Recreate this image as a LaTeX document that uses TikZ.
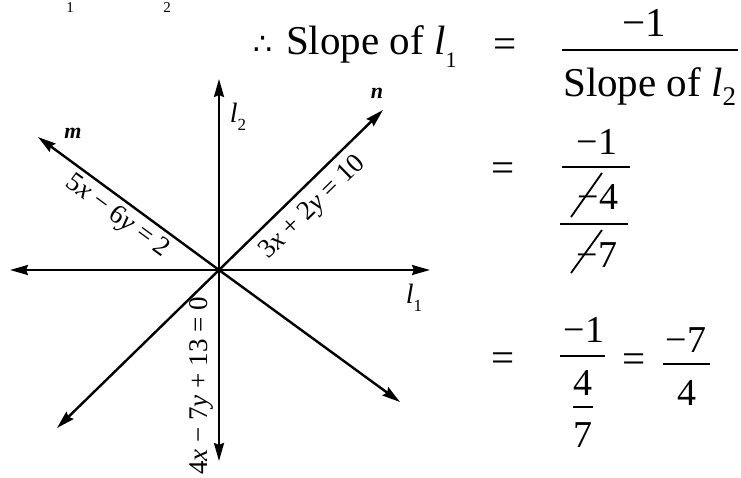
\documentclass[tikz,border=0pt]{standalone}
\usepackage{fontspec}
\setmainfont{Liberation Serif}
\newfontfamily\symfont{DejaVu Sans}
\usetikzlibrary{arrows.meta}
\newcommand\ellsub[3]{\textit{l}\raisebox{#3}{\fontsize{#2}{#2}\selectfont #1}}
\tikzset{
  ax/.style={line width=2.4pt, {Stealth[length=18pt,width=10pt,inset=2pt]}-{Stealth[length=18pt,width=10pt,inset=2pt]}},
  big/.style={font=\fontsize{41}{41}\selectfont, inner sep=0pt, anchor=base},
  mid/.style={font=\fontsize{38}{38}\selectfont, inner sep=0pt, anchor=base},
  lbl/.style={font=\fontsize{27}{27}\selectfont, inner sep=0pt},
  nm/.style={font=\fontsize{22}{22}\selectfont\itshape\bfseries, inner sep=0pt},
  fbar/.style={line width=2.2pt},
  strike/.style={line width=1.8pt}
}
\begin{document}
\begin{tikzpicture}[x=1pt,y=-1pt]
\useasboundingbox (0,0) rectangle (741,478);
% cut-off subscripts from the previous line
\node[font=\fontsize{15}{15}\selectfont, inner sep=0pt] (c1) at (70,8) {1};
\node[font=\fontsize{15}{15}\selectfont, inner sep=0pt] (c2) at (167,8) {2};

% diagram
\coordinate (O) at (219,270);
\coordinate (hL) at (10,270);
\coordinate (hR) at (430,270);
\coordinate (vT) at (219,79);
\coordinate (vB) at (219,461);
\coordinate (mA) at (38,137);
\coordinate (mB) at (400,402);
\coordinate (nA) at (383,110);
\coordinate (nB) at (57,428);
\draw[ax] (hL) -- (O) -- (hR);
\draw[ax] (vT) -- (O) -- (vB);
\draw[ax] (mA) -- (O) -- (mB);
\draw[ax] (nB) -- (O) -- (nA);

\node[nm] (m) at (73,133) {m};
\node[nm] (n) at (377,93) {n};
\node[font=\fontsize{28}{28}\selectfont, inner sep=0pt] (l2) at (238,117) {\ellsub{2}{17}{-0.3em}};
\node[font=\fontsize{28}{28}\selectfont, inner sep=0pt] (l1) at (414,298) {\ellsub{1}{17}{-0.3em}};

\node[lbl, rotate=-36.2] (eqm) at (117,217) {5\textit{x} − 6\textit{y} = 2};
\node[lbl, rotate=44.3] (eqn) at (313,208) {3\textit{x} + 2\textit{y} = 10};
\node[lbl, rotate=90] (eqv) at (201,386) {4\textit{x} − 7\textit{y} + 13 = 0};

% row 1
\node[font=\symfont\fontsize{30}{30}\selectfont, inner sep=0pt, anchor=base] (th) at (263,55) {∴};
\node[big, anchor=base west] (s1) at (286,55) {Slope of \ellsub{1}{22}{-0.3em}};
\node[big] (e1) at (505,58) {=};
\node[big] (n1) at (644,37) {−1};
\coordinate (b1a) at (562,50); \coordinate (b1b) at (738,50);
\draw[fbar] (b1a) -- (b1b);
\node[big, anchor=base west] (d1) at (563,97) {Slope of \ellsub{2}{27}{-0.2em}};

% row 2
\node[big] (e2) at (503,182) {=};
\node[mid] (n2) at (597,155) {−1};
\coordinate (b2a) at (562,167); \coordinate (b2b) at (630,167);
\draw[fbar] (b2a) -- (b2b);
\node[mid] (f4) at (598,210) {−4};
\coordinate (b3a) at (560,224); \coordinate (b3b) at (628,224);
\draw[fbar] (b3a) -- (b3b);
\node[mid] (f7) at (597,268) {−7};
\coordinate (s4a) at (571,217); \coordinate (s4b) at (602,173);
\coordinate (s7a) at (571,273); \coordinate (s7b) at (602,230);
\draw[strike] (s4a) -- (s4b);
\draw[strike] (s7a) -- (s7b);

% row 3
\node[big] (e3) at (503,371) {=};
\node[mid] (n3) at (584,342) {−1};
\coordinate (b4a) at (560,356); \coordinate (b4b) at (605,356);
\draw[fbar] (b4a) -- (b4b);
\node[mid] (g4) at (583,395) {4};
\coordinate (b5a) at (573,407); \coordinate (b5b) at (593,407);
\draw[fbar] (b5a) -- (b5b);
\node[mid] (g7) at (583,447) {7};
\node[big] (e4) at (634,372) {=};
\node[mid] (n4) at (686,352) {−7};
\coordinate (b6a) at (663,364); \coordinate (b6b) at (710,364);
\draw[fbar] (b6a) -- (b6b);
\node[mid] (h4) at (687,405) {4};
\end{tikzpicture}
\end{document}
